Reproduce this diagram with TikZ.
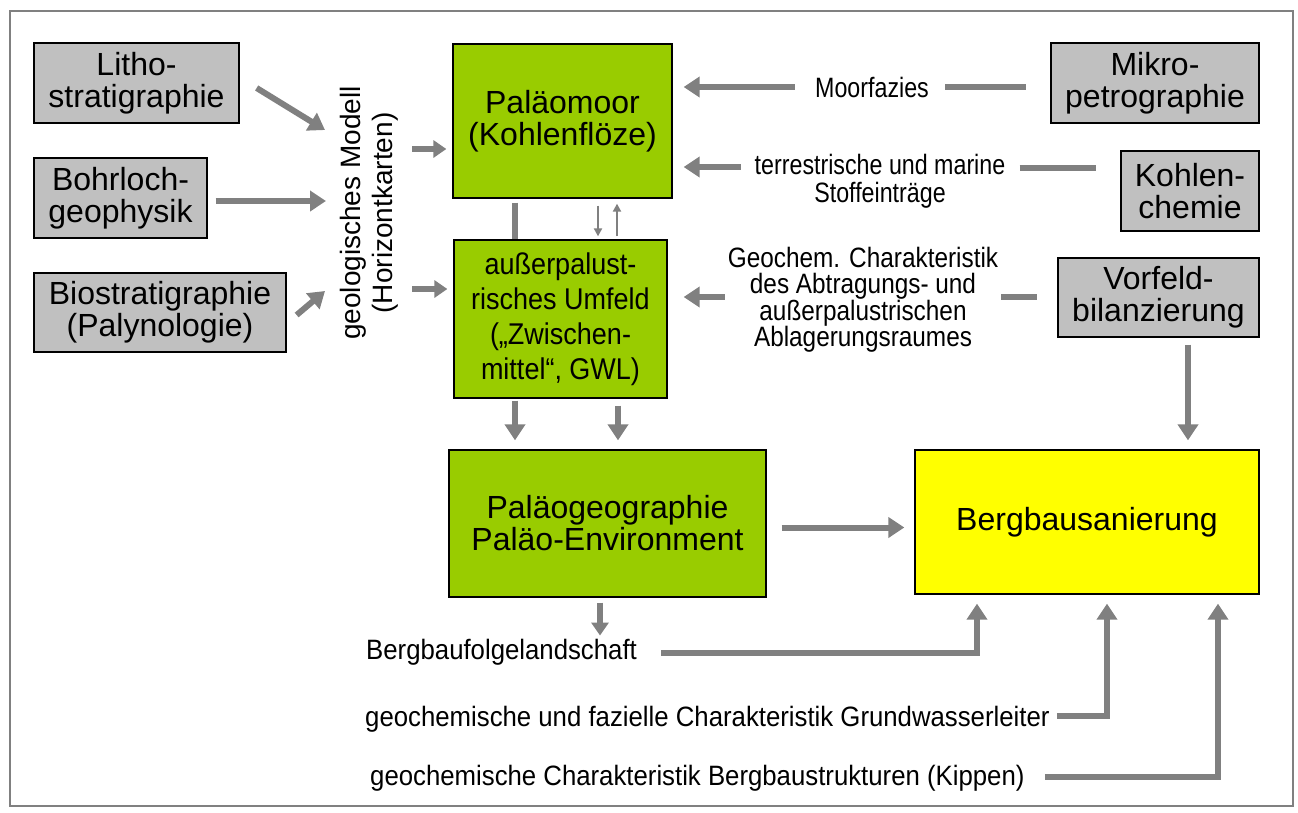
\documentclass[tikz,border=0pt]{standalone}
\usepackage{fontspec}
\setmainfont{Liberation Sans}
\newfontfamily\narrowsans[FakeStretch=0.83]{Liberation Sans}
\newfontfamily\narrowsansb[FakeStretch=0.87]{Liberation Sans}
\newfontfamily\narrowsansc[FakeStretch=0.9]{Liberation Sans}
\newfontfamily\narrowsansd[FakeStretch=0.92]{Liberation Sans}
\usetikzlibrary{arrows.meta}
\definecolor{boxgray}{HTML}{C0C0C0}
\definecolor{lgreen}{HTML}{99CC00}
\definecolor{arrgray}{HTML}{808080}
\definecolor{framegray}{HTML}{808080}
\definecolor{byellow}{HTML}{FFFF00}
\begin{document}
\begin{tikzpicture}[x=1pt,y=-1pt,
  box/.style={draw=black, line width=1.3pt, inner sep=0pt, align=center, font=\fontsize{32}{32}\selectfont},
  graybox/.style={box, fill=boxgray},
  greenbox/.style={box, fill=lgreen},
  arr/.style={draw=arrgray, line width=6pt, -{Triangle[width=20pt,length=16pt]}},
  arrs/.style={draw=arrgray, line width=6pt, -{Triangle[width=17pt,length=13pt]}},
  bar/.style={draw=arrgray, line width=6pt},
  thinarr/.style={draw=arrgray, line width=2pt, -{Triangle[width=8pt,length=8pt]}},
  midlabel/.style={align=center, inner sep=0pt, font=\narrowsans\fontsize{28}{28}\selectfont},
  botlabel/.style={inner sep=0pt, anchor=base west, font=\narrowsansd\fontsize{28}{28}\selectfont},
]
\useasboundingbox (0,0) rectangle (1298,812);
\draw[framegray, line width=2pt] (10,11) rectangle (1293,806);

% boxes
\node[graybox, minimum width=205pt, minimum height=80pt] (litho) at (136.5,83) {Litho-\\stratigraphie};
\node[graybox, minimum width=173pt, minimum height=80pt] (bohr) at (120.5,198) {Bohrloch-\\geophysik};
\node[graybox, minimum width=252pt, minimum height=79pt] (bio) at (160,312.5) {Biostratigraphie\\(Palynologie)};
\node[greenbox, minimum width=219pt, minimum height=154pt] (moor) at (562.5,121) {Paläomoor\\(Kohlenflöze)};
\node[greenbox, minimum width=213pt, minimum height=158pt, font=\narrowsansc\fontsize{30}{35}\selectfont] (aus) at (560.5,319) {außerpalust-\\risches Umfeld\\(„Zwischen-\\mittel“, GWL)};
\node[greenbox, minimum width=317pt, minimum height=147pt] (pgeo) at (607.5,523.5) {Paläogeographie\\Paläo-Environment};
\node[box, fill=byellow, minimum width=344pt, minimum height=144pt] (berg) at (1087,522) {Bergbausanierung};
\node[graybox, minimum width=208pt, minimum height=80pt] (mikro) at (1155,83) {Mikro-\\petrographie};
\node[graybox, minimum width=138pt, minimum height=80pt] (kohle) at (1190,191) {Kohlen-\\chemie};
\node[graybox, minimum width=201pt, minimum height=79pt] (vorf) at (1158.5,297.5) {Vorfeld-\\bilanzierung};

% rotated model label
\node[rotate=90, align=center, inner sep=0pt, font=\fontsize{28}{32}\selectfont] (geo) at (369,213) {geologisches Modell\\(Horizontkarten)};

% labels
\node[midlabel] (lmoor) at (872,87) {Moorfazies};
\node[midlabel] (lter) at (880,181) {terrestrische und marine\\Stoffeinträge};
\node[midlabel, font=\narrowsansb\fontsize{28}{26.5}\selectfont] (lgeo) at (863,300) {Geochem. Charakteristik\\des Abtragungs- und\\außerpalustrischen\\Ablagerungsraumes};
\node[botlabel] (lbf) at (366,659) {Bergbaufolgelandschaft};
\node[botlabel] (lgw) at (365,726) {geochemische und fazielle Charakteristik Grundwasserleiter};
\node[botlabel] (lkip) at (370,785) {geochemische Charakteristik Bergbaustrukturen (Kippen)};

% coordinates near the model label
\coordinate (g1) at (325,130);
\coordinate (g2) at (326,201);
\coordinate (g3) at (325,291);
\coordinate (g4) at (412,149);
\coordinate (g5) at (412,289);

% left inputs
\draw[arr] ([shift={(17,5)}]litho.east) -- (g1);
\draw[arr] ([shift={(8,3)}]bohr.east) -- (g2);
\draw[arr] ([shift={(10,2.5)}]bio.east) -- (g3);
\draw[arrs, shorten >=6pt] (g4) -- (g4 -| moor.west);
\draw[arrs, shorten >=6pt] (g5) -- (g5 -| aus.west);

% between moor and aus
\draw[bar, shorten <=4pt] (515,0 |- moor.south) -- (515,0 |- aus.north);
\draw[thinarr, shorten <=7pt, shorten >=3pt] (598,0 |- moor.south) -- (598,0 |- aus.north);
\draw[thinarr, shorten <=3pt, shorten >=5pt] (617,0 |- aus.north) -- (617,0 |- moor.south);

% right inputs
\draw[arr, shorten >=11pt] ([xshift=-20pt]lmoor.west) -- (lmoor.west -| moor.east);
\draw[bar, shorten >=24pt] ([xshift=16pt]lmoor.east) -- (lmoor.east -| mikro.west);
\coordinate (t1) at ([shift={(-14,-14)}]lter.west);
\coordinate (t2) at ([shift={(14,-13)}]lter.east);
\draw[arr, shorten >=11pt] (t1) -- (t1 -| moor.east);
\draw[bar, shorten >=24pt] (t2) -- (t2 -| kohle.west);
\coordinate (v1) at ([shift={(-3,-3)}]lgeo.west);
\coordinate (v2) at ([shift={(3,-3)}]lgeo.east);
\draw[arr, shorten >=16pt] (v1) -- (v1 -| aus.east);
\draw[bar, shorten >=20pt] (v2) -- (v2 -| vorf.west);
\draw[arr, shorten <=7pt, shorten >=9pt] (1188,0 |- vorf.south) -- (1188,0 |- berg.north);

% down to Palaeogeographie
\draw[arr, shorten <=2pt, shorten >=9pt] (515,0 |- aus.south) -- (515,0 |- pgeo.north);
\draw[arr, shorten <=7pt, shorten >=9pt] (618,0 |- aus.south) -- (618,0 |- pgeo.north);

% to Bergbausanierung
\coordinate (pe) at ([yshift=-4pt]pgeo.east);
\draw[arr, shorten <=15pt, shorten >=10pt] (pe) -- (pe -| berg.west);
\draw[arrs, shorten <=5pt, shorten >=3pt] (600,0 |- pgeo.south) -- (600,0 |- lbf.north);

% bottom feeds
\draw[arr, shorten <=24pt, shorten >=9pt] ([yshift=-1pt]lbf.east) -| (977,0 |- berg.south);
\draw[arr, shorten <=7pt, shorten >=9pt] ([yshift=3pt]lgw.east) -| (1107,0 |- berg.south);
\draw[arr, shorten <=20pt, shorten >=9pt] ([yshift=1pt]lkip.east) -| (1218,0 |- berg.south);
\end{tikzpicture}
\end{document}
